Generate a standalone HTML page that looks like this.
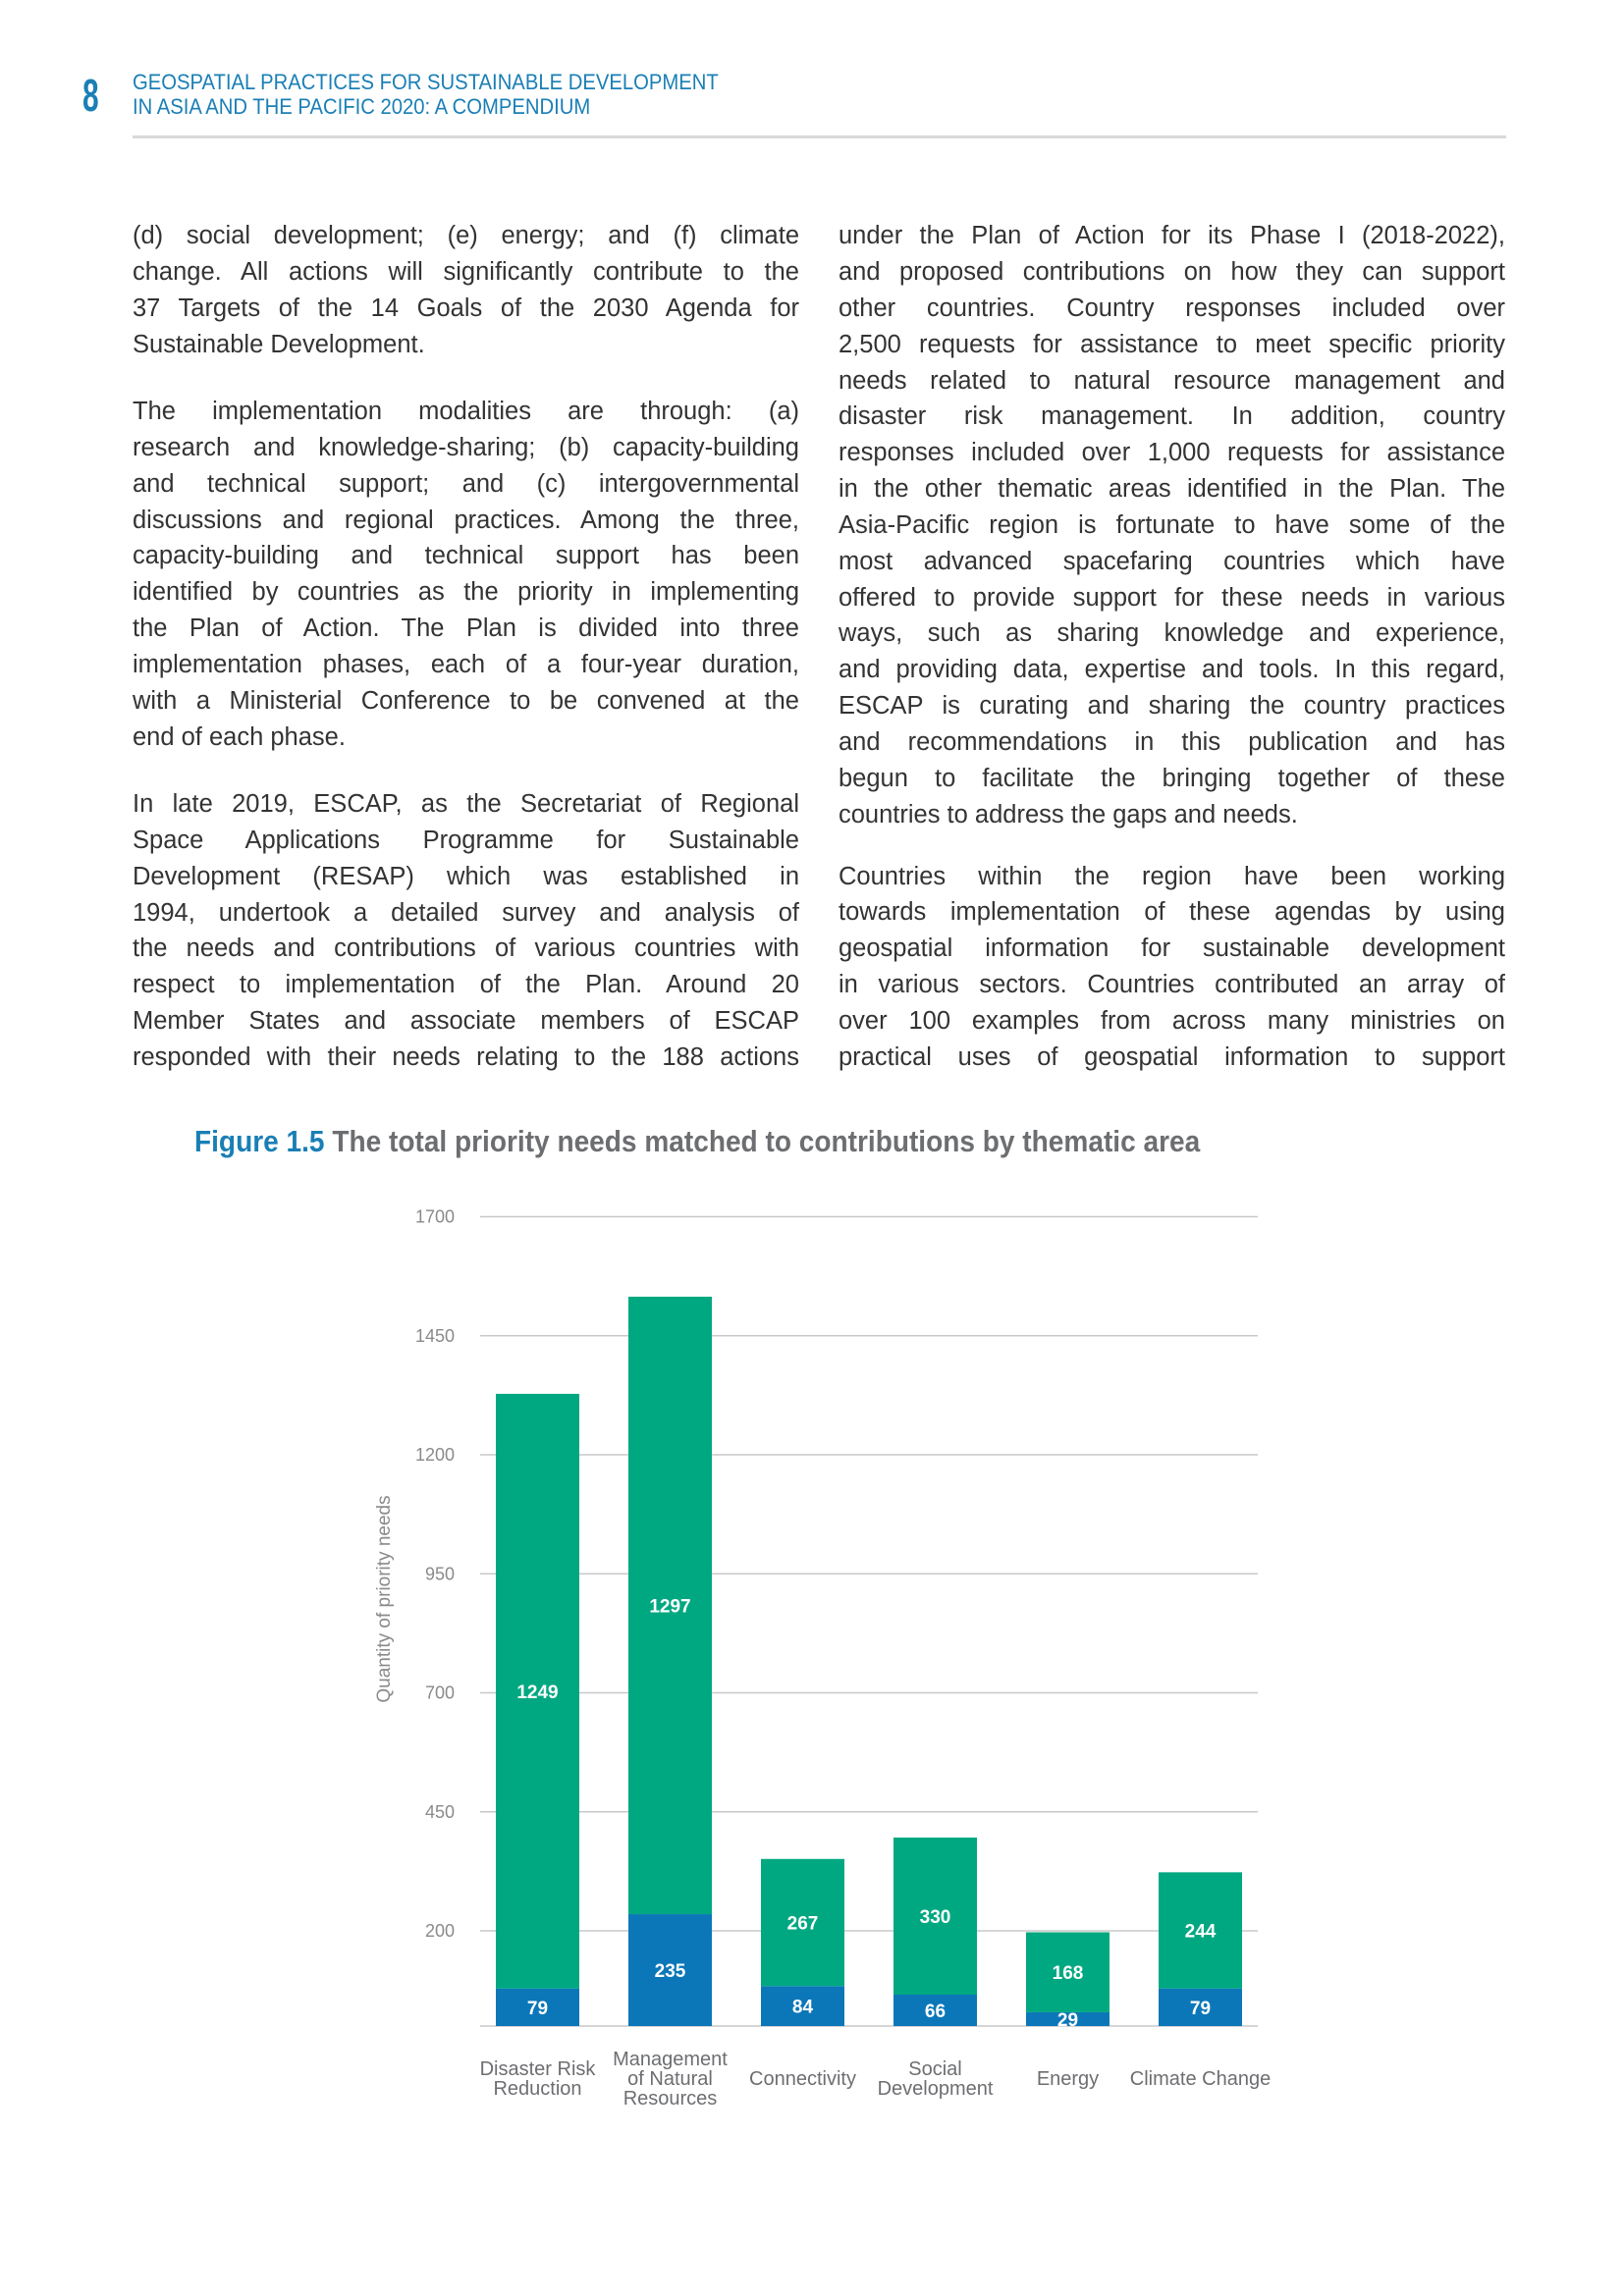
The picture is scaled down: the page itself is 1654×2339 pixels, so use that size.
<!DOCTYPE html>
<html><head><meta charset="utf-8"><style>
html,body{margin:0;padding:0;background:#fff}
body{width:1654px;height:2339px;position:relative;overflow:hidden;font-family:"Liberation Sans",sans-serif}
.ln{position:absolute;height:37px;line-height:37px;font-size:25.5px;color:#333;white-space:nowrap;text-align:justify;text-align-last:justify}
.ln.last{text-align-last:left}
</style></head><body>
<div style="position:absolute;left:84px;top:70px;font-size:46px;font-weight:bold;color:#1a7fb5;transform:scaleX(0.65);transform-origin:left">8</div>
<div style="position:absolute;left:135px;top:71px;font-size:22.5px;line-height:25px;color:#1a7fb5;transform:scaleX(0.9);transform-origin:left;white-space:nowrap">GEOSPATIAL PRACTICES FOR SUSTAINABLE DEVELOPMENT<br>IN ASIA AND THE PACIFIC 2020: A COMPENDIUM</div>
<div style="position:absolute;left:135px;top:138px;width:1399px;height:3px;background:#d9d9d9"></div>
<div id="txt"></div>
<div style="position:absolute;left:198px;top:1145px;font-size:31px;font-weight:bold;color:#6d6e71;white-space:nowrap;transform:scaleX(0.905);transform-origin:left"><span style="color:#1a7fb5">Figure 1.5</span> The total priority needs matched to contributions by thematic area</div>
<svg id="chart" width="1654" height="2339" style="position:absolute;left:0;top:0"></svg>
<script>
const L=[
[240.6,["(d) social development; (e) energy; and (f) climate","change. All actions will significantly contribute to the","37 Targets of the 14 Goals of the 2030 Agenda for","Sustainable Development."]],
[419.5,["The implementation modalities are through: (a)","research and knowledge-sharing; (b) capacity-building","and technical support; and (c) intergovernmental","discussions and regional practices. Among the three,","capacity-building and technical support has been","identified by countries as the priority in implementing","the Plan of Action. The Plan is divided into three","implementation phases, each of a four-year duration,","with a Ministerial Conference to be convened at the","end of each phase."]],
[819.5,["In late 2019, ESCAP, as the Secretariat of Regional","Space Applications Programme for Sustainable","Development (RESAP) which was established in","1994, undertook a detailed survey and analysis of","the needs and contributions of various countries with","respect to implementation of the Plan. Around 20","Member States and associate members of ESCAP","responded with their needs relating to the 188 actions"],1]];
const R=[
[240.6,["under the Plan of Action for its Phase I (2018-2022),","and proposed contributions on how they can support","other countries. Country responses included over","2,500 requests for assistance to meet specific priority","needs related to natural resource management and","disaster risk management. In addition, country","responses included over 1,000 requests for assistance","in the other thematic areas identified in the Plan. The","Asia-Pacific region is fortunate to have some of the","most advanced spacefaring countries which have","offered to provide support for these needs in various","ways, such as sharing knowledge and experience,","and providing data, expertise and tools. In this regard,","ESCAP is curating and sharing the country practices","and recommendations in this publication and has","begun to facilitate the bringing together of these","countries to address the gaps and needs."]],
[893,["Countries within the region have been working","towards implementation of these agendas by using","geospatial information for sustainable development","in various sectors. Countries contributed an array of","over 100 examples from across many ministries on","practical uses of geospatial information to support"],1]];
const T=document.getElementById('txt');
function col(ps,x){ps.forEach(p=>{p[1].forEach((s,i)=>{const d=document.createElement('div');


d.className='ln'+(i==p[1].length-1&&!p[2]?' last':'');d.style.left=x+'px';d.style.width='679px';d.style.top=(p[0]+i*36.85-18.5)+'px';d.textContent=s;T.appendChild(d);});});}
col(L,135);col(R,854);

const categories=[["Disaster Risk","Reduction"],["Management","of Natural","Resources"],["Connectivity"],["Social","Development"],["Energy"],["Climate Change"]];
const contributions=[79,235,84,66,29,79];
const needs=[1249,1297,267,330,168,244];
const ticks=[200,450,700,950,1200,1450,1700];
const NS='http://www.w3.org/2000/svg',svg=document.getElementById('chart');
const y0=2064,k=0.485,x0=505,step=135,bw=85;
const y=v=>y0-v*k, xc=i=>x0+bw/2+i*step;
function el(t,a,txt){const e=document.createElementNS(NS,t);for(const n in a)e.setAttribute(n,a[n]);if(txt!=null)e.textContent=txt;svg.appendChild(e);return e;}
ticks.forEach(t=>{const g=el('line',{x1:489,x2:1281,y1:y(t),y2:y(t),stroke:'#c8c8c8','stroke-width':1.5});


const l=el('text',{x:463,y:y(t)+6,'text-anchor':'end','font-size':18,fill:'#8a8a8a','font-family':'Liberation Sans Narrow, Liberation Sans, sans-serif'},t);

});
const base=el('line',{x1:489,x2:1281,y1:y0,y2:y0,stroke:'#c8c8c8','stroke-width':1.5});


categories.forEach((c,i)=>{const xl=xc(i)-bw/2,a=contributions[i],b=needs[i];
const r1=el('rect',{x:xl,y:y(a),width:bw,height:a*k,fill:'#0b77b8'});


const r2=el('rect',{x:xl,y:y(a+b),width:bw,height:b*k,fill:'#00a881'});


const t1=el('text',{x:xc(i),y:y(a/2)+7,'text-anchor':'middle','font-size':19,'font-weight':'bold',fill:'#fff'},a);


const t2=el('text',{x:xc(i),y:y(a+b/2)+7,'text-anchor':'middle','font-size':19,'font-weight':'bold',fill:'#fff'},b);


const n=c.length,cy=2117-(n-1)*10;
c.forEach((s,j)=>{const t=el('text',{x:xc(i),y:cy+j*20+7,'text-anchor':'middle','font-size':20,fill:'#6d6e71'},s);

});});
const yt=el('text',{x:0,y:0,transform:'translate(397,1629) rotate(-90)','text-anchor':'middle','font-size':19,fill:'#8a8a8a'},'Quantity of priority needs');


</script>
</body></html>
